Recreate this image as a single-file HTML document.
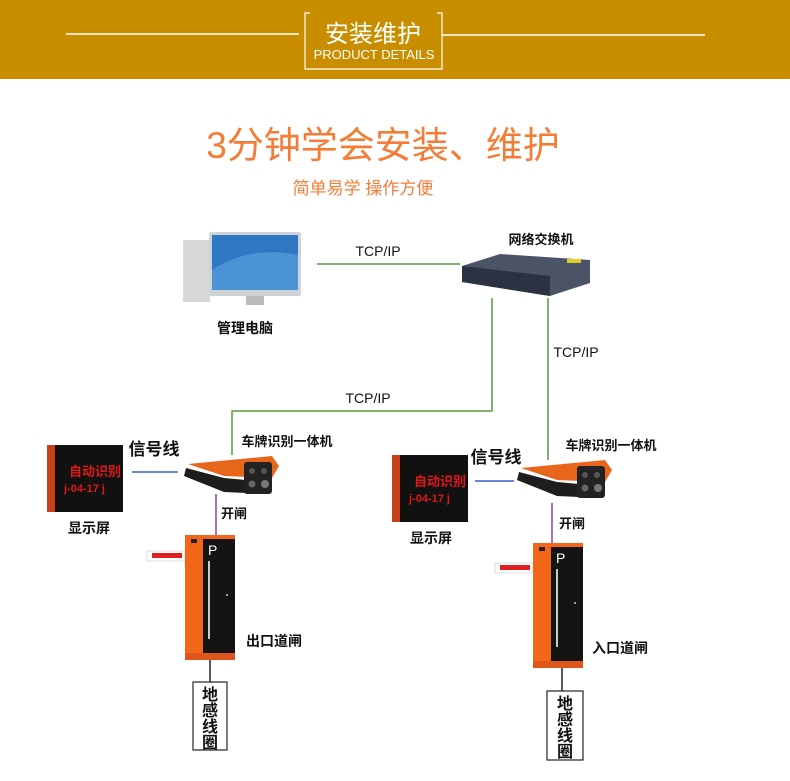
<!DOCTYPE html>
<html><head><meta charset="utf-8"><style>
body{margin:0;background:#fff;}
svg{display:block;font-family:"Liberation Sans","Noto Sans CJK SC",sans-serif;}
.b{font-weight:bold;}
</style></head><body>
<svg width="790" height="781" viewBox="0 0 790 781" xmlns="http://www.w3.org/2000/svg">
<defs>
<g id="cam">
<path d="M4 8 L88 0 L95 10 L88 22 L40 20 Z" fill="#e8661c"/>
<path d="M2 12 L40 22 L62 24 L62 37 L40 36 L0 20 Z" fill="#1d1d1d"/>
<rect x="60" y="6" width="28" height="32" rx="3" fill="#222"/>
<circle cx="68" cy="15" r="3" fill="#555"/><circle cx="80" cy="15" r="3" fill="#555"/>
<circle cx="68" cy="28" r="3.5" fill="#666"/><circle cx="81" cy="28" r="4" fill="#777"/>
</g>
<g id="gate">
<rect x="0" y="0" width="50" height="125" fill="#f2661a"/>
<rect x="18" y="4" width="32" height="116" fill="#141414"/>
<rect x="0" y="118" width="50" height="7" fill="#e0561a"/>
<text x="23" y="20" font-size="14" fill="#fff">P</text>
<rect x="23" y="26" width="2" height="78" fill="#ccc"/>
<rect x="6" y="4" width="6" height="4" fill="#222"/>
<circle cx="42" cy="60" r="1" fill="#ccc"/>
</g>
<g id="disp">
<rect x="0" y="0" width="76" height="67" fill="#111"/>
<rect x="0" y="0" width="8" height="67" fill="#c8401a"/>
<text x="22" y="31" font-size="13" fill="#e01818" font-weight="bold">自动识别</text>
<text x="17" y="47" font-size="11" fill="#e01818" font-weight="bold">j-04-17 j</text>
</g>
</defs>

<rect x="0" y="0" width="790" height="79" fill="#c98e00"/>
<line x1="66" y1="34" x2="299" y2="34" stroke="#fff" stroke-width="1.5"/>
<line x1="442" y1="35" x2="705" y2="35" stroke="#fff" stroke-width="1.5"/>
<path d="M310 13 L305 13 L305 69 L442 69 L442 13 L437 13" fill="none" stroke="#fff" stroke-width="1.2"/>
<text x="373" y="42" font-size="24" fill="#fff" text-anchor="middle">安装维护</text>
<text x="374" y="59" font-size="13" fill="#fff" text-anchor="middle">PRODUCT DETAILS</text>

<text x="383" y="158" font-size="37" fill="#f47c36" text-anchor="middle">3分钟学会安装、维护</text>
<text x="363" y="194" font-size="17" fill="#f47c36" text-anchor="middle">简单易学 操作方便</text>

<!-- PC -->
<rect x="183" y="240" width="27" height="62" fill="#d8d8d8"/>
<rect x="209" y="232" width="92" height="64" rx="2" fill="#cfd3d8"/>
<rect x="212" y="235" width="86" height="55" fill="#2f78c4"/>
<path d="M212 270 Q250 245 298 255 L298 290 L212 290Z" fill="#5fa6e0" opacity=".6"/>
<rect x="246" y="296" width="18" height="9" fill="#bbb"/>
<text x="245" y="333" font-size="14" fill="#111" text-anchor="middle" class="b">管理电脑</text>

<!-- switch -->
<path d="M462 266 L500 254 L590 260 L590 283 L550 296 L462 282Z" fill="#4b5466"/>
<path d="M462 266 L550 276 L550 296 L462 282Z" fill="#2c3242"/>
<rect x="567" y="259" width="14" height="4" fill="#e0d020"/>
<text x="541" y="244" font-size="13" fill="#111" text-anchor="middle" class="b">网络交换机</text>

<!-- lines -->
<g stroke="#5a9a3a" stroke-width="1.5" fill="none">
<line x1="317" y1="264" x2="460" y2="264"/>
<polyline points="492,298 492,411 232,411 232,455"/>
<line x1="548" y1="298" x2="548" y2="460"/>
</g>
<text x="378" y="256" font-size="14" fill="#111" text-anchor="middle">TCP/IP</text>
<text x="368" y="403" font-size="14" fill="#111" text-anchor="middle">TCP/IP</text>
<text x="576" y="357" font-size="14" fill="#111" text-anchor="middle">TCP/IP</text>

<line x1="132" y1="472" x2="178" y2="472" stroke="#3a5fd0" stroke-width="1.5"/>
<line x1="475" y1="481" x2="514" y2="481" stroke="#3a5fd0" stroke-width="1.5"/>
<line x1="216" y1="494" x2="216" y2="535" stroke="#9a3ab0" stroke-width="1.5"/>
<line x1="552" y1="503" x2="552" y2="543" stroke="#9a3ab0" stroke-width="1.5"/>
<line x1="210" y1="660" x2="210" y2="682" stroke="#222" stroke-width="1.5"/>
<line x1="562" y1="668" x2="562" y2="691" stroke="#222" stroke-width="1.5"/>

<!-- left -->
<use href="#disp" x="47" y="445"/>
<text x="89" y="533" font-size="14" fill="#111" text-anchor="middle" class="b">显示屏</text>
<text x="154" y="455" font-size="17" fill="#111" text-anchor="middle" class="b">信号线</text>
<use href="#cam" x="184" y="456"/>
<text x="287" y="446" font-size="13" fill="#111" text-anchor="middle" class="b">车牌识别一体机</text>
<text x="221" y="518" font-size="13" fill="#111" class="b">开闸</text>
<rect x="147" y="551" width="38" height="10" fill="#fff" stroke="#ddd"/>
<rect x="152" y="553" width="30" height="5" fill="#e02020"/>
<use href="#gate" x="185" y="535"/>
<text x="246" y="646" font-size="14" fill="#111" class="b">出口道闸</text>
<rect x="193" y="682" width="34" height="68" fill="#fff" stroke="#222" stroke-width="1.2"/>
<g font-size="16" fill="#111" text-anchor="middle" class="b">
<text x="210" y="700">地</text><text x="210" y="716">感</text><text x="210" y="732">线</text><text x="210" y="748">圈</text>
</g>

<!-- right -->
<use href="#disp" x="392" y="455"/>
<text x="431" y="543" font-size="14" fill="#111" text-anchor="middle" class="b">显示屏</text>
<text x="496" y="463" font-size="17" fill="#111" text-anchor="middle" class="b">信号线</text>
<use href="#cam" x="517" y="460"/>
<text x="611" y="450" font-size="13" fill="#111" text-anchor="middle" class="b">车牌识别一体机</text>
<text x="559" y="528" font-size="13" fill="#111" class="b">开闸</text>
<rect x="495" y="563" width="38" height="10" fill="#fff" stroke="#ddd"/>
<rect x="500" y="565" width="30" height="5" fill="#e02020"/>
<use href="#gate" x="533" y="543"/>
<text x="592" y="653" font-size="14" fill="#111" class="b">入口道闸</text>
<rect x="547" y="691" width="36" height="69" fill="#fff" stroke="#222" stroke-width="1.2"/>
<g font-size="16" fill="#111" text-anchor="middle" class="b">
<text x="565" y="709">地</text><text x="565" y="725">感</text><text x="565" y="741">线</text><text x="565" y="757">圈</text>
</g>
</svg>
</body></html>
